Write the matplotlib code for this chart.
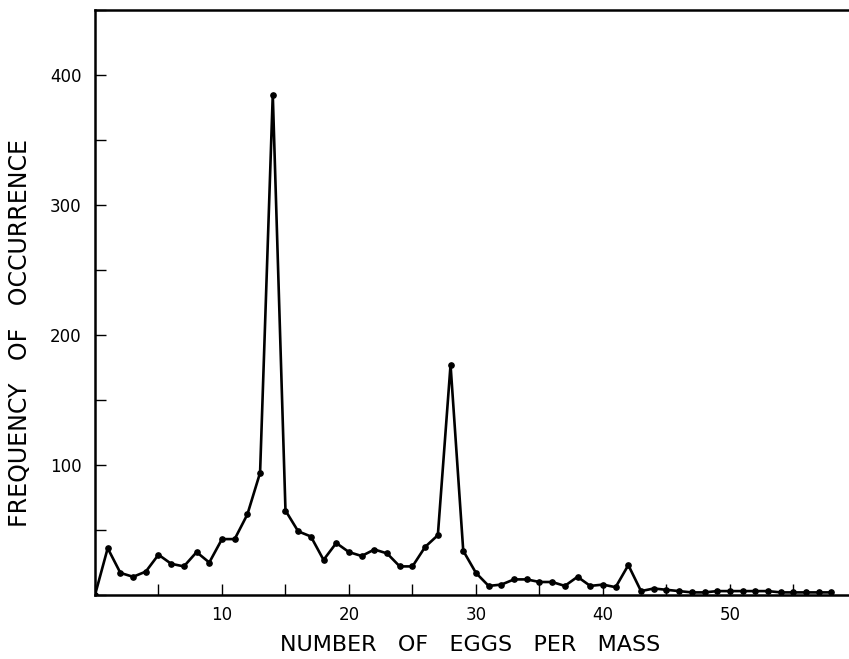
import matplotlib
matplotlib.use("Agg")
import matplotlib.pyplot as plt
from matplotlib.ticker import MultipleLocator

eggs_per_mass = list(range(0, 59))
frequency = [0, 36, 17, 14, 18, 31, 24, 22, 33, 25, 43, 43, 62, 94, 385,
             65, 49, 45, 27, 40, 33, 30, 35, 32, 22, 22, 37, 46, 177, 34,
             17, 7, 8, 12, 12, 10, 10, 7, 14, 7, 8, 6, 23, 3, 5,
             4, 3, 2, 2, 3, 3, 3, 3, 3, 2, 2, 2, 2, 2]
x_major_ticks = [10, 20, 30, 40, 50]
y_major_ticks = [100, 200, 300, 400]

fig = plt.figure(figsize=(8.49, 6.59), dpi=100)
ax = fig.add_axes([95/849, 64/659, 753/849, 585/659])
ax.plot(eggs_per_mass, frequency, color="black", lw=1.9, marker="o", ms=3.8)

ax.set_xlim(0, 59.3)
ax.set_ylim(0, 450)
ax.spines["right"].set_visible(False)
for s in ("left", "top", "bottom"):
    ax.spines[s].set_linewidth(1.8)

ax.set_xticks(x_major_ticks)
ax.xaxis.set_minor_locator(MultipleLocator(5))
ax.set_yticks(y_major_ticks)
ax.yaxis.set_minor_locator(MultipleLocator(50))
ax.tick_params(which="both", direction="in", length=8, width=1.0, labelsize=12)
ax.tick_params(axis="x", pad=8)
ax.tick_params(axis="y", pad=9.5)

ax.set_xlabel("NUMBER   OF   EGGS   PER   MASS", fontsize=16)
ax.set_ylabel("FREQUENCY   OF   OCCURRENCE", fontsize=17)
ax.xaxis.set_label_coords(0.498, -0.068)
ax.yaxis.set_label_coords(-0.084, 0.448)

fig.savefig("out.png", dpi=100)
